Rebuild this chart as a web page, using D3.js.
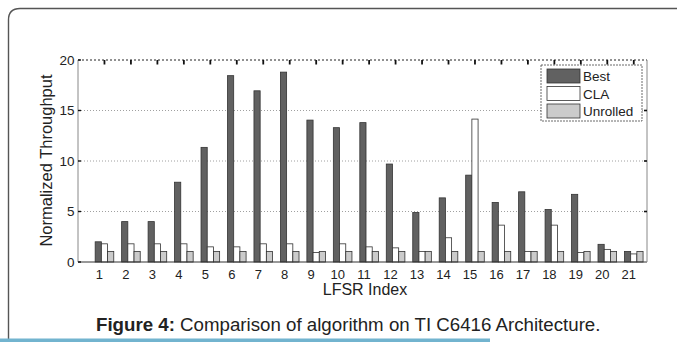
<!DOCTYPE html>
<html>
<head>
<meta charset="utf-8">
<script src="https://cdn.jsdelivr.net/npm/d3@7"></script>
<style>
  body { margin: 0; background: #fff; }
  svg { display: block; }
  text { font-family: "Liberation Sans", Arial, Helvetica, sans-serif; fill: #222; }
</style>
</head>
<body>
<div id="chart-area"></div>
<script>
const W = 677
const H = 342
const PLOT = { LEFT: 78, RIGHT: 647, TOP: 60, BOTTOM: 262 }

// data
const lfsrIndex = d3.range(1, 22)
const seriesNames = ["Best", "CLA", "Unrolled"]
const best = [2.0, 4.0, 4.0, 7.9, 11.35, 18.45, 16.95, 18.8, 14.05, 13.3, 13.8, 9.7, 4.9, 6.35, 8.6, 5.9, 6.95, 5.2, 6.7, 1.75, 1.05]
const cla = [1.8, 1.8, 1.8, 1.8, 1.5, 1.5, 1.8, 1.8, 0.95, 1.8, 1.5, 1.4, 1.05, 2.4, 14.15, 3.65, 1.05, 3.65, 0.95, 1.25, 0.8]
const unrolled = [1.05, 1.05, 1.05, 1.05, 1.05, 1.05, 1.05, 1.05, 1.05, 1.05, 1.05, 1.05, 1.05, 1.05, 1.05, 1.05, 1.05, 1.05, 1.05, 1.05, 1.05]
const yTicks = [0, 5, 10, 15, 20]

const seriesValues = { Best: best, CLA: cla, Unrolled: unrolled }
const fillColor = { Best: "#616161", CLA: "#ffffff", Unrolled: "#cbcbcb" }

const svg = d3.select("#chart-area").append("svg")
  .attr("width", W)
  .attr("height", H)

// page frame (rounded box + blue rule)
svg.append("path")
  .attr("d", `M8.5,${H} L8.5,20 Q8.5,8.5 20,8.5 L${W + 5},8.5`)
  .attr("fill", "none")
  .attr("stroke", "#555")
  .attr("stroke-width", 1.4)
svg.append("rect")
  .attr("x", 0).attr("y", 338.5)
  .attr("width", 490).attr("height", 4)
  .attr("fill", "#72b4cf")

// Scales
const x = d3.scaleLinear()
  .domain([0, 21.5])
  .range([PLOT.LEFT, PLOT.RIGHT])
const y = d3.scaleLinear()
  .domain([0, 20])
  .range([PLOT.BOTTOM, PLOT.TOP])
const inner = d3.scaleBand()
  .domain(seriesNames)
  .range([-9.3, 9.3])

const g = svg.append("g")

// grid lines
g.selectAll(".grid")
  .data([5, 10, 15])
  .enter().append("line")
    .attr("x1", PLOT.LEFT).attr("x2", PLOT.RIGHT)
    .attr("y1", d => y(d)).attr("y2", d => y(d))
    .attr("stroke", "#a0a0a0")
    .attr("stroke-width", 1)
    .attr("stroke-dasharray", "1,2")

// bars
seriesNames.forEach(s => {
  g.selectAll(".bar-" + s)
    .data(seriesValues[s])
    .enter().append("rect")
      .attr("x", (d, i) => x(lfsrIndex[i]) + inner(s))
      .attr("y", d => y(d))
      .attr("width", inner.bandwidth())
      .attr("height", d => y(0) - y(d))
      .attr("fill", fillColor[s])
      .attr("stroke", "#333")
      .attr("stroke-width", 0.8)
})

// axes box
g.append("line") // top, dotted
  .attr("x1", PLOT.LEFT).attr("x2", PLOT.RIGHT)
  .attr("y1", PLOT.TOP).attr("y2", PLOT.TOP)
  .attr("stroke", "#222").attr("stroke-dasharray", "2,2")
g.append("line") // bottom
  .attr("x1", PLOT.LEFT).attr("x2", PLOT.RIGHT)
  .attr("y1", PLOT.BOTTOM).attr("y2", PLOT.BOTTOM)
  .attr("stroke", "#333")
g.append("line") // left
  .attr("x1", PLOT.LEFT).attr("x2", PLOT.LEFT)
  .attr("y1", PLOT.TOP).attr("y2", PLOT.BOTTOM)
  .attr("stroke", "#888")
g.append("line") // right
  .attr("x1", PLOT.RIGHT).attr("x2", PLOT.RIGHT)
  .attr("y1", PLOT.TOP).attr("y2", PLOT.BOTTOM)
  .attr("stroke", "#888")

// inward tick marks
g.selectAll(".xtick-top")
  .data(lfsrIndex)
  .enter().append("line")
    .attr("x1", d => x(d)).attr("x2", d => x(d))
    .attr("y1", PLOT.TOP).attr("y2", PLOT.TOP + 4.5)
    .attr("stroke", "#111").attr("stroke-width", 1.8)
g.selectAll(".ytick-left")
  .data(yTicks)
  .enter().append("line")
    .attr("x1", PLOT.LEFT).attr("x2", PLOT.LEFT + 3)
    .attr("y1", d => y(d)).attr("y2", d => y(d))
    .attr("stroke", "#111").attr("stroke-width", 1.4)
g.selectAll(".ytick-right")
  .data(yTicks.slice(1, 4))
  .enter().append("line")
    .attr("x1", PLOT.RIGHT - 3).attr("x2", PLOT.RIGHT)
    .attr("y1", d => y(d)).attr("y2", d => y(d))
    .attr("stroke", "#111").attr("stroke-width", 1.6)

// tick labels
g.selectAll(".xlabel")
  .data(lfsrIndex)
  .enter().append("text")
    .attr("x", d => x(d) - 5)
    .attr("y", 278.5)
    .attr("text-anchor", "middle")
    .attr("font-size", "13px")
    .text(d => d)
g.selectAll(".ylabel")
  .data(yTicks)
  .enter().append("text")
    .attr("x", PLOT.LEFT - 3.5)
    .attr("y", d => y(d) + 4.5)
    .attr("text-anchor", "end")
    .attr("font-size", "13.5px")
    .text(d => d)

// axis titles
svg.append("text")
  .attr("x", 365)
  .attr("y", 295)
  .attr("text-anchor", "middle")
  .attr("font-size", "16px")
  .text("LFSR Index")
svg.append("text")
  .attr("transform", "translate(52, 160.5) rotate(-90)")
  .attr("text-anchor", "middle")
  .attr("font-size", "16.5px")
  .text("Normalized Throughput")

// Legend
const legend = svg.append("g")
  .attr("transform", "translate(541, 65)")
legend.append("rect")
  .attr("width", 101).attr("height", 56)
  .attr("fill", "#fff")
  .attr("stroke", "#444").attr("stroke-width", 0.8)
  .attr("stroke-dasharray", "2,1")
seriesNames.forEach((s, i) => {
  const row = legend.append("g")
    .attr("transform", `translate(6, ${4 + i * 17.5})`)
  row.append("rect")
    .attr("width", 33).attr("height", 14)
    .attr("fill", fillColor[s])
    .attr("stroke", "#333").attr("stroke-width", 0.8)
  row.append("text")
    .attr("x", 36).attr("y", 12)
    .attr("font-size", "13.5px")
    .text(s)
})

// caption
const caption = svg.append("text")
  .attr("x", 96)
  .attr("y", 331)
  .attr("font-size", "18.7px")
  .attr("fill", "#111")
caption.append("tspan").attr("font-weight", "bold").text("Figure 4:")
caption.append("tspan").text(" Comparison of algorithm on TI C6416 Architecture.")
</script>
</body>
</html>
